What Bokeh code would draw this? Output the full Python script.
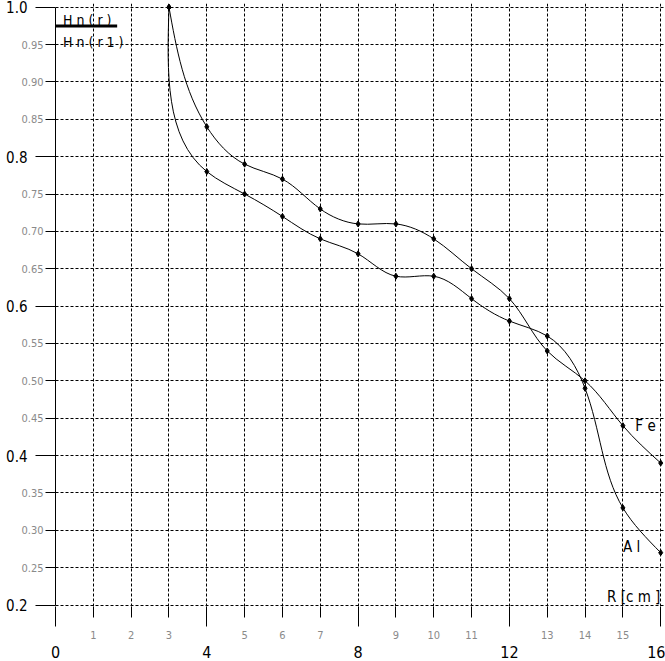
import numpy as np
from bokeh.plotting import figure
from bokeh.models import LinearAxis, FixedTicker, Range1d, Grid
from bokeh.core.properties import value
from bokeh.embed import file_html
from bokeh.resources import INLINE

# ---------------- data ----------------
r_cm = [3, 4, 5, 6, 7, 8, 9, 10, 11, 12, 13, 14, 15, 16]
fe = [1.00, 0.84, 0.79, 0.77, 0.73, 0.71, 0.71, 0.69, 0.65, 0.61, 0.54, 0.50, 0.44, 0.39]
al = [1.00, 0.78, 0.75, 0.72, 0.69, 0.67, 0.64, 0.64, 0.61, 0.58, 0.56, 0.49, 0.33, 0.27]

x_major = [0, 4, 8, 12, 16]
x_major_labels = ["0", "4", "8", "12", "16"]
x_minor = [1, 2, 3, 5, 6, 7, 9, 10, 11, 13, 14, 15]
x_minor_labels = ["1", "2", "3", "5", "6", "7", "9", "10", "11", "13", "14", "15"]
x_grid = [0, 1, 2, 3, 4, 5, 6, 7, 8, 9, 10, 11, 12, 13, 14, 15, 16]

y_major = [0.2, 0.4, 0.6, 0.8, 1.0]
y_major_labels = ["0.2", "0.4", "0.6", "0.8", "1.0"]
y_minor = [0.25, 0.3, 0.35, 0.45, 0.5, 0.55, 0.65, 0.7, 0.75, 0.85, 0.9, 0.95]
y_minor_labels = ["0.25", "0.30", "0.35", "0.45", "0.50", "0.55",
                  "0.65", "0.70", "0.75", "0.85", "0.90", "0.95"]
y_grid = [0.2, 0.25, 0.3, 0.35, 0.4, 0.45, 0.5, 0.55, 0.6, 0.65, 0.7, 0.75, 0.8,
          0.85, 0.9, 0.95, 1.0]

FONT = "'DejaVu Sans Condensed', 'Liberation Sans Narrow', 'Liberation Sans', sans-serif"

# approximate screen scale (px per data unit) used to shape the smooth curves
SX, SY = 37.8, 750.0


def spline_bezier(x, y):
    """Parametric natural cubic spline (chord length, screen space) as Bezier segments."""
    P = np.column_stack([np.asarray(x, float) * SX, np.asarray(y, float) * SY])
    n = len(P)
    h = np.linalg.norm(np.diff(P, axis=0), axis=1)
    A = np.zeros((n, n))
    B = np.zeros((n, 2))
    A[0, 0], A[0, 1] = 2, 1
    B[0] = 3 * (P[1] - P[0]) / h[0]
    A[-1, -2], A[-1, -1] = 1, 2
    B[-1] = 3 * (P[-1] - P[-2]) / h[-1]
    for i in range(1, n - 1):
        A[i, i - 1] = 1 / h[i - 1]
        A[i, i] = 2 * (1 / h[i - 1] + 1 / h[i])
        A[i, i + 1] = 1 / h[i]
        B[i] = 3 * ((P[i] - P[i - 1]) / h[i - 1] ** 2 + (P[i + 1] - P[i]) / h[i] ** 2)
    D = np.linalg.solve(A, B)
    C0 = P[:-1] + D[:-1] * h[:, None] / 3
    C1 = P[1:] - D[1:] * h[:, None] / 3
    return dict(
        x0=P[:-1, 0] / SX, y0=P[:-1, 1] / SY, x1=P[1:, 0] / SX, y1=P[1:, 1] / SY,
        cx0=C0[:, 0] / SX, cy0=C0[:, 1] / SY, cx1=C1[:, 0] / SX, cy1=C1[:, 1] / SY,
    )


p = figure(width=665, height=661,
           x_range=Range1d(0, 16.1), y_range=Range1d(0.198, 1.005),
           output_backend="svg", toolbar_location=None,
           x_axis_location=None, y_axis_location=None,
           min_border_top=3, min_border_right=1, min_border_left=55, min_border_bottom=55)
p.center = []
p.outline_line_color = None
p.background_fill_color = "white"
p.border_fill_color = "white"

# grids
for dim, ticks in ((0, x_grid), (1, y_grid)):
    g = Grid(dimension=dim, ticker=FixedTicker(ticks=ticks))
    g.grid_line_color = "black"
    g.grid_line_dash = "3 2"
    g.grid_line_width = 1
    p.add_layout(g)


def small_axis(ticks, labels, long_ticks, standoff, bounds=None, line=True, tick_out=10):
    ax = LinearAxis(ticker=FixedTicker(ticks=ticks, minor_ticks=long_ticks),
                    major_label_overrides=dict(zip(ticks, labels)))
    if bounds is not None:
        ax.bounds = bounds
    ax.axis_line_color = "black" if line else None
    ax.major_tick_out = tick_out
    ax.major_tick_in = 0
    ax.minor_tick_out = 20
    ax.minor_tick_in = 0
    ax.major_tick_line_color = "black"
    ax.minor_tick_line_color = "black"
    ax.major_label_standoff = standoff
    ax.major_label_text_font = FONT
    ax.major_label_text_font_size = "11px"
    ax.major_label_text_color = "#8a8a8a"
    return ax


def big_axis(ticks, labels, standoff, size):
    ax = LinearAxis(ticker=FixedTicker(ticks=ticks, minor_ticks=[]),
                    major_label_overrides=dict(zip(ticks, labels)))
    ax.axis_line_color = None
    ax.major_tick_line_color = None
    ax.minor_tick_line_color = None
    ax.major_tick_out = 0
    ax.major_tick_in = 0
    ax.minor_tick_out = 0
    ax.major_label_standoff = standoff
    ax.major_label_text_font = FONT
    ax.major_label_text_font_size = size
    ax.major_label_text_color = "black"
    return ax


p.add_layout(small_axis(y_minor, y_minor_labels, y_major, -8, bounds=(0.2, 1.0), tick_out=10), "left")
p.add_layout(big_axis(y_major, y_major_labels, -9, "15px"), "left")
p.add_layout(small_axis(x_minor, x_minor_labels, x_major, 4, line=False, tick_out=11), "below")
p.add_layout(big_axis(x_major, x_major_labels, 4, "16px"), "below")

# curves
for series in (fe, al):
    seg = spline_bezier(r_cm, series)
    p.bezier(**seg, line_color="black", line_width=1)
    p.scatter(r_cm, series, marker="diamond", size=6, color="black")

# in-plot labels
txt = dict(text_font=value(FONT), text_color="black", text_baseline="middle",
           text_align="left")
p.text(x=[15.33], y=[0.439], text=["F e"], text_font_size="15px", **txt)
p.text(x=[15.0], y=[0.277], text=["A l"], text_font_size="15px", **txt)
p.text(x=[14.58], y=[0.211], text=["R [c m ]"], text_font_size="15px", **txt)
p.text(x=[0.2], y=[0.983], text=["H n ( r )"], text_font_size="14px", **txt)
p.text(x=[0.2], y=[0.953], text=["H n ( r 1 )"], text_font_size="14px", **txt)
p.segment(x0=[0], y0=[0.975], x1=[1.63], y1=[0.975], line_color="black", line_width=3)

open("out.html", "w").write(file_html(p, INLINE))
